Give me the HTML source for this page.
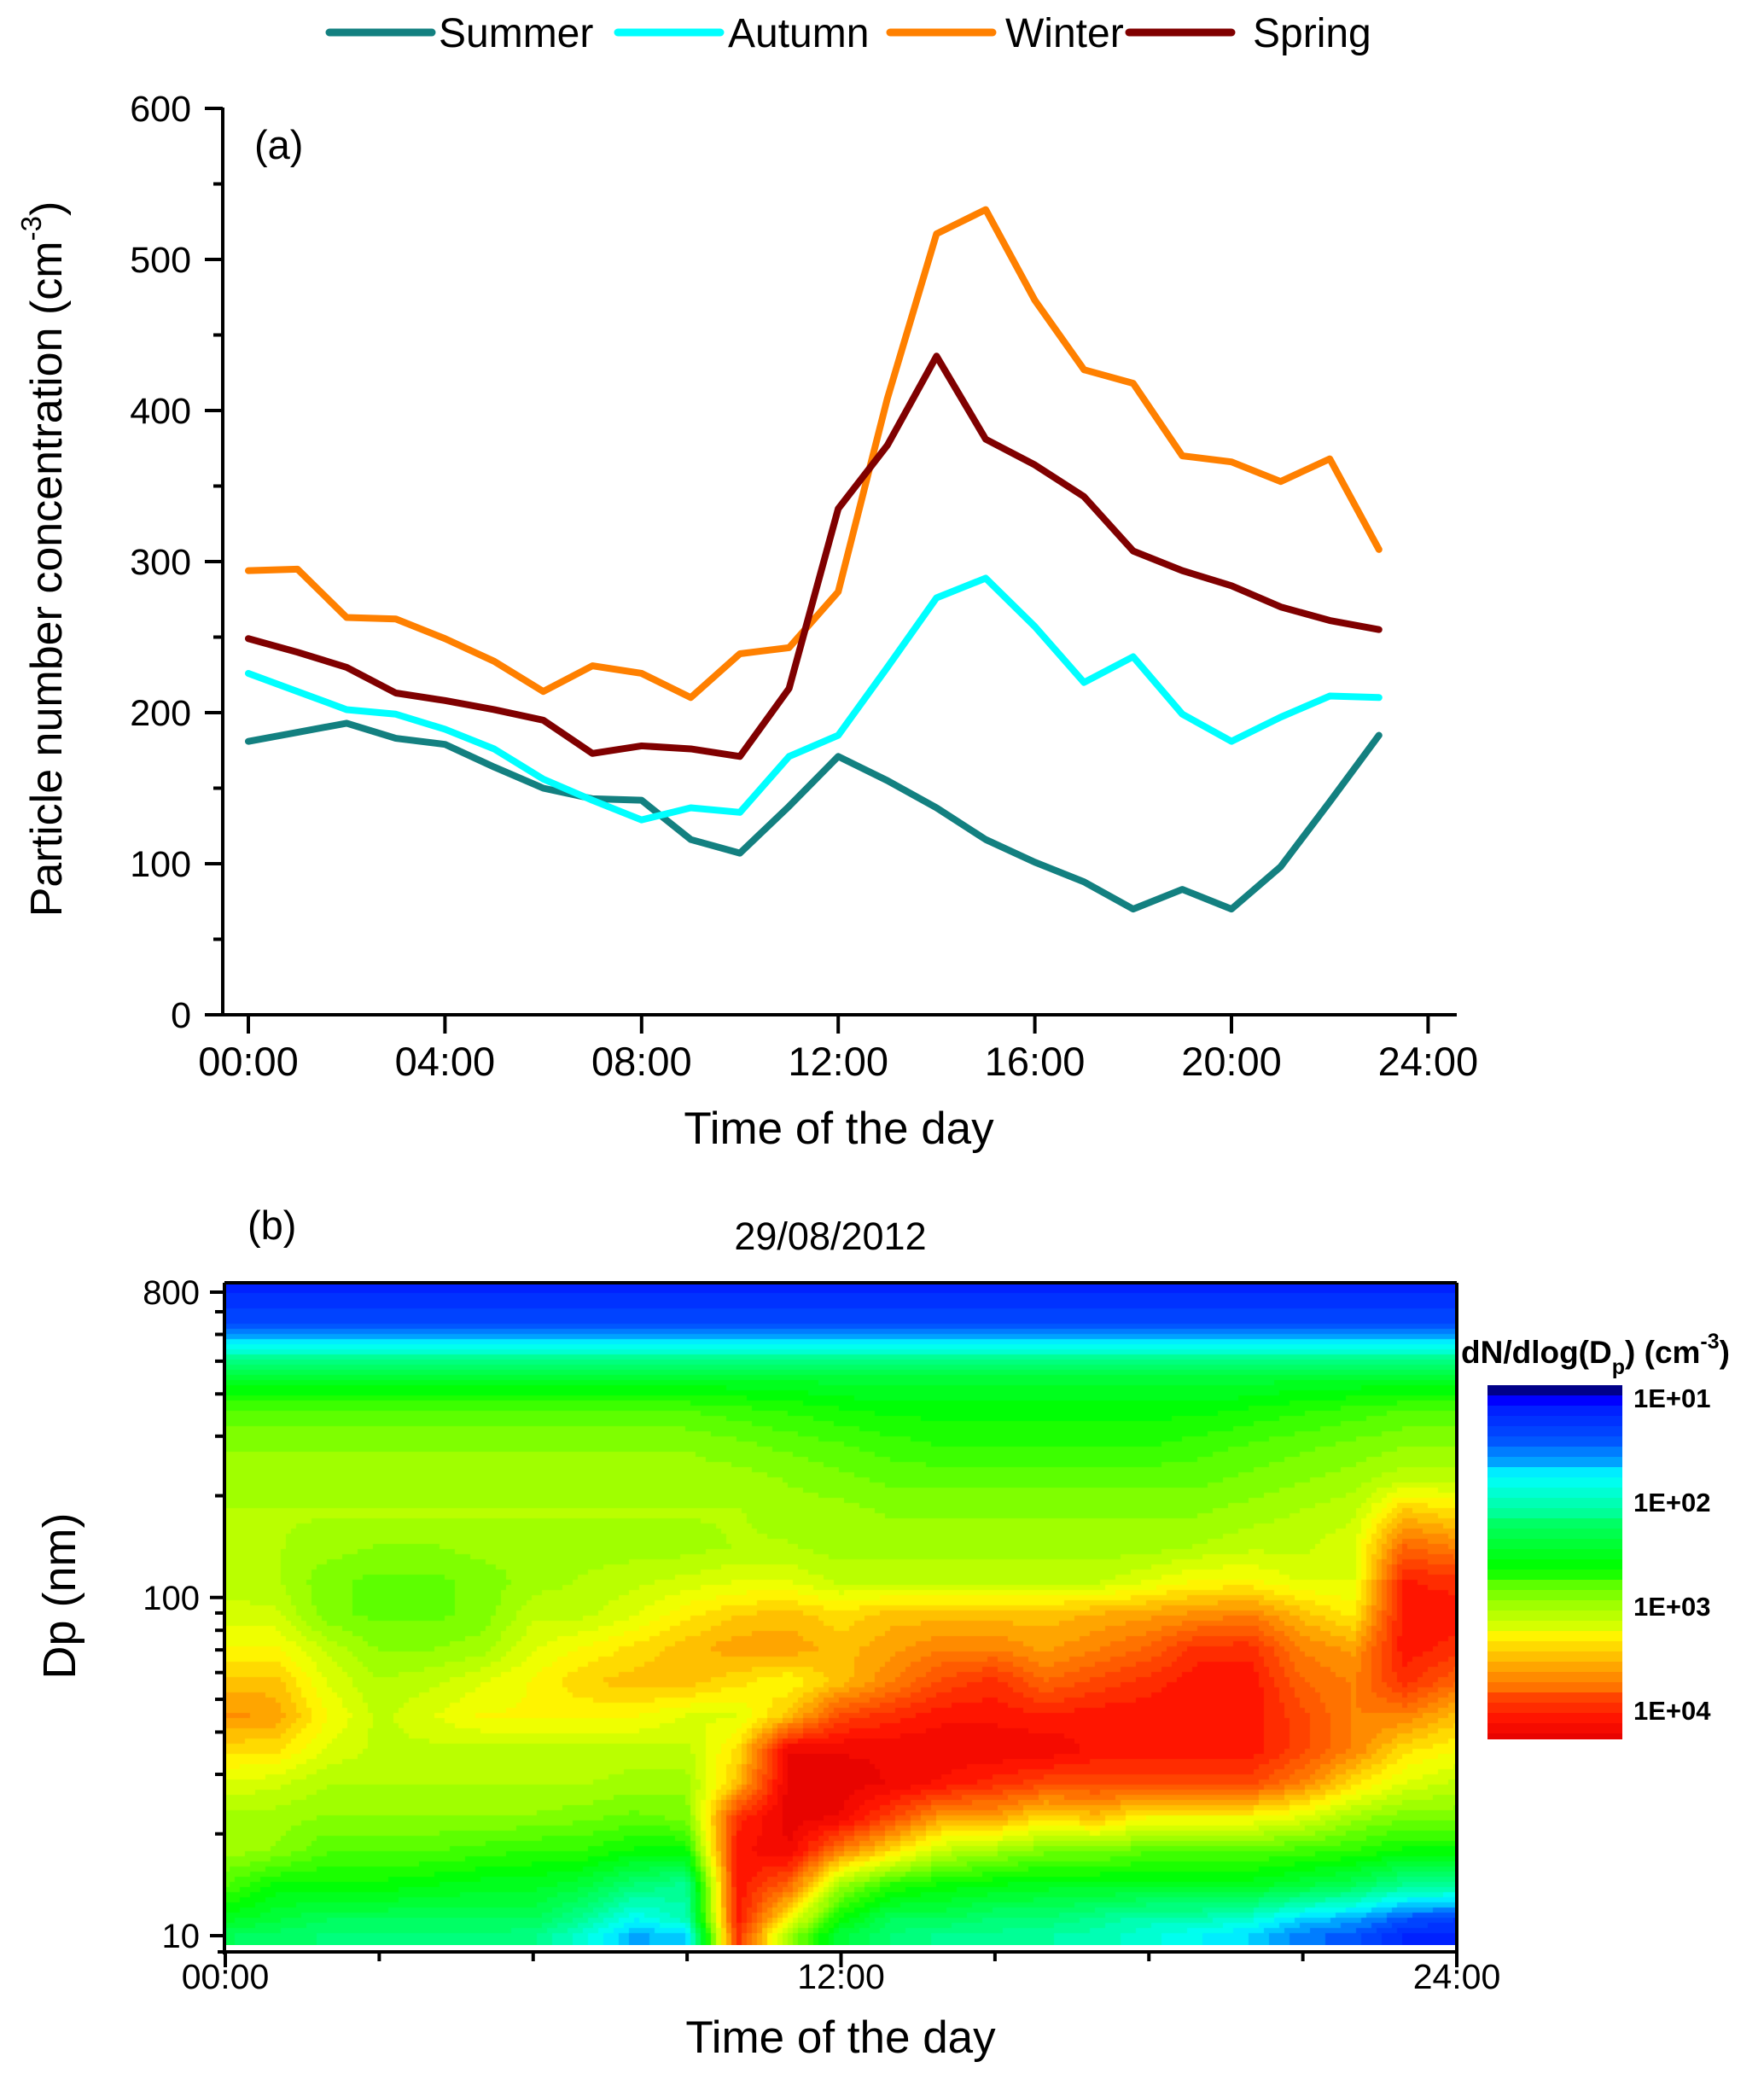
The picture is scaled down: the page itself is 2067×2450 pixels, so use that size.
<!DOCTYPE html>
<html><head><meta charset="utf-8"><style>
html,body{margin:0;padding:0;background:#fff;}
#wrap{position:relative;width:2067px;height:2450px;overflow:hidden;font-family:"Liberation Sans",Arial,sans-serif;}
svg{position:absolute;left:0;top:0;}
#heat{position:absolute;left:263px;top:1503px;}
</style></head><body>
<div id="wrap">
<canvas id="heat" width="1444" height="776"></canvas>
<svg id="fig" width="2067" height="2450"></svg>
</div>
<script>
// ---- Panel (a) data ----
const hours = [0,1,2,3,4,5,6,7,8,9,10,11,12,13,14,15,16,17,18,19,20,21,22,23];
const summer = [181,187,193,183,179,164,150,143,142,116,107,138,171,155,137,116,101,88,70,83,70,98,141,185];
const autumn = [226,214,202,199,189,176,156,142,129,137,134,171,185,230,276,289,257,220,237,199,181,197,211,210];
const winter = [294,295,263,262,249,234,214,231,226,210,239,243,280,408,517,533,473,427,418,370,366,353,368,308];
const spring = [249,240,230,213,208,202,195,173,178,176,171,216,335,377,436,381,364,343,307,294,284,270,261,255];
const yTicksA = [0,100,200,300,400,500,600];
const xTickLabelsA = ["00:00","04:00","08:00","12:00","16:00","20:00","24:00"];
const xTickHoursA = [0,4,8,12,16,20,24];

// ---- Panel (b) data: log10(dN/dlogDp) grid, rows = log10(Dp), cols = hour 0..24 ----
const heatHours = [0,1,2,3,4,5,6,7,8,9,10,11,12,13,14,15,16,17,18,19,20,21,22,23,24];
const heatLogDp = [2.9,2.8,2.72,2.65,2.55,2.45,2.35,2.25,2.15,2.05,1.95,1.85,1.75,1.65,1.55,1.45,1.35,1.25,1.15,1.05,1.0];
const heatValues = [
[1.2,1.2,1.2,1.2,1.2,1.2,1.2,1.2,1.2,1.2,1.2,1.2,1.2,1.2,1.2,1.2,1.2,1.2,1.2,1.2,1.2,1.2,1.2,1.2,1.2],
[1.4,1.4,1.4,1.4,1.4,1.4,1.4,1.4,1.4,1.4,1.4,1.4,1.4,1.4,1.4,1.4,1.4,1.4,1.4,1.4,1.4,1.4,1.4,1.4,1.4],
[2.0,2.0,2.0,2.0,2.0,2.0,2.0,2.0,2.0,2.0,2.0,2.0,2.0,2.0,2.0,2.0,2.0,2.0,2.0,2.0,2.0,2.0,2.0,2.0,2.0],
[2.45,2.45,2.45,2.45,2.45,2.45,2.45,2.45,2.45,2.45,2.45,2.45,2.4,2.4,2.4,2.4,2.4,2.4,2.4,2.4,2.4,2.45,2.45,2.45,2.45],
[2.8,2.8,2.8,2.8,2.8,2.8,2.8,2.8,2.8,2.8,2.75,2.7,2.65,2.6,2.6,2.6,2.6,2.6,2.6,2.6,2.65,2.7,2.75,2.8,2.8],
[2.95,2.95,2.95,2.95,2.95,2.95,2.95,2.95,2.95,2.95,2.9,2.85,2.8,2.75,2.7,2.7,2.7,2.7,2.7,2.75,2.8,2.85,2.9,2.95,2.95],
[3.0,3.0,3.0,3.0,3.0,3.0,3.0,3.0,3.0,3.0,3.0,2.95,2.9,2.85,2.85,2.85,2.85,2.85,2.85,2.85,2.9,2.95,3.0,3.1,3.1],
[3.05,3.05,3.05,3.05,3.05,3.05,3.05,3.05,3.05,3.05,3.05,3.0,3.0,2.95,2.95,2.95,2.95,2.95,2.95,2.95,3.0,3.05,3.1,3.5,3.4],
[3.05,3.05,3.0,2.95,2.95,3.0,3.0,3.0,3.0,3.0,3.05,3.05,3.0,3.0,3.0,3.0,3.0,3.0,3.0,3.05,3.1,3.1,3.2,3.8,3.7],
[3.1,3.05,2.9,2.85,2.85,2.9,3.0,3.05,3.1,3.15,3.2,3.2,3.1,3.1,3.1,3.1,3.1,3.1,3.2,3.3,3.3,3.2,3.2,4.05,4.0],
[3.15,3.15,2.9,2.85,2.85,2.9,3.1,3.1,3.2,3.35,3.45,3.5,3.4,3.5,3.5,3.5,3.5,3.55,3.6,3.65,3.7,3.5,3.35,4.1,4.1],
[3.3,3.3,3.1,2.95,2.95,3.0,3.2,3.3,3.4,3.5,3.6,3.6,3.5,3.6,3.7,3.7,3.6,3.7,3.8,4.0,4.0,3.7,3.6,4.1,4.0],
[3.5,3.5,3.2,3.05,3.1,3.2,3.3,3.45,3.5,3.5,3.4,3.3,3.5,3.7,3.9,4.0,3.8,3.9,4.0,4.1,4.1,3.8,3.7,4.0,3.8],
[3.65,3.6,3.3,3.1,3.2,3.3,3.3,3.3,3.3,3.2,3.2,3.5,3.9,4.0,4.1,4.1,4.05,4.1,4.1,4.1,4.1,3.9,3.7,3.7,3.5],
[3.4,3.4,3.2,3.1,3.1,3.1,3.1,3.1,3.1,3.1,3.4,4.2,4.2,4.2,4.2,4.2,4.2,4.1,4.1,4.1,4.1,3.9,3.7,3.4,3.3],
[3.2,3.15,3.05,3.05,3.05,3.05,3.05,3.05,3.0,3.0,3.5,4.25,4.25,4.2,4.1,4.0,3.9,3.9,3.9,3.9,3.9,3.7,3.4,3.2,3.1],
[3.0,3.0,2.95,2.95,2.95,2.95,2.95,2.9,2.85,2.9,4.0,4.25,4.2,3.9,3.6,3.6,3.4,3.5,3.3,3.3,3.3,3.2,3.0,2.9,2.9],
[3.0,2.95,2.8,2.8,2.8,2.75,2.7,2.7,2.6,2.6,4.1,4.2,3.7,3.4,3.1,3.0,2.9,2.9,2.8,2.8,2.8,2.75,2.7,2.6,2.6],
[2.8,2.6,2.6,2.6,2.55,2.5,2.5,2.4,2.2,2.1,4.1,3.8,3.0,2.7,2.6,2.55,2.5,2.5,2.5,2.5,2.5,2.4,2.3,2.1,2.1],
[2.5,2.4,2.3,2.3,2.3,2.3,2.3,2.1,1.8,2.0,4.1,3.3,2.6,2.3,2.3,2.2,2.2,2.1,2.0,2.0,1.9,1.7,1.6,1.4,1.3],
[2.3,2.25,2.2,2.2,2.2,2.2,2.15,1.9,1.6,1.7,4.0,3.0,2.4,2.2,2.1,2.1,2.05,2.0,1.9,1.8,1.7,1.5,1.4,1.2,1.2]
];
const yTicksB = [10,100,800];
const xTickLabelsB = ["00:00","12:00","24:00"];
const xTickHoursB = [0,12,24];
const cbarLabels = ["1E+01","1E+02","1E+03","1E+04"];
const cbarLogs = [1,2,3,4];

// ---- scales ----
const xA = h => 291 + h*57.6;
const yA = v => 1189 - v*(1062/600);
const xB = h => 264 + h*(1443/24);
const yB = d => 2268 - (Math.log10(d)-1)*396.2;
const yCb = l => 1637 + (l-1)*122;

const NS="http://www.w3.org/2000/svg";
const svg=document.getElementById('fig');
function mk(tag,attrs,parent){const e=document.createElementNS(NS,tag);for(const k in attrs)e.setAttribute(k,attrs[k]);(parent||svg).appendChild(e);return e;}
function txt(s,attrs){const e=mk('text',attrs);e.textContent=s;return e;}

// ---- Legend ----
const legNames=["Summer","Autumn","Winter","Spring"];
const legColors=["#138080","#00ffff","#ff8000","#800000"];
const legX=[386,724,1043,1323];
const legTX=[514,853,1178,1468];
for(let i=0;i<4;i++){
  const g=mk('g',{});
  
  
  mk('line',{x1:legX[i],y1:38,x2:legX[i]+120,y2:38,stroke:legColors[i],'stroke-width':9,'stroke-linecap':'round'},g);
  const t=mk('text',{x:legTX[i],y:55,'font-size':48,fill:'#000'},g);t.textContent=legNames[i];
}

// ---- Panel (a) axes ----
const axA=mk('g',{stroke:'#000','stroke-width':4});


mk('line',{x1:261,y1:126,x2:261,y2:1191},axA);
mk('line',{x1:240,y1:1189,x2:1707,y2:1189},axA);
for(let v=0;v<=600;v+=50){const maj=v%100===0;mk('line',{x1:maj?240:250,y1:yA(v),x2:261,y2:yA(v)},axA);}
xTickHoursA.forEach(h=>mk('line',{x1:xA(h),y1:1189,x2:xA(h),y2:1211},axA));
yTicksA.forEach(v=>{const t=txt(String(v),{x:224,y:yA(v)+15,'font-size':43,'text-anchor':'end'});});
xTickHoursA.forEach((h,i)=>{const t=txt(xTickLabelsA[i],{x:xA(h),y:1260,'font-size':47,'text-anchor':'middle'});});
let t;
t=txt("(a)",{x:298,y:186,'font-size':47});
t=txt("Time of the day",{x:983,y:1340,'font-size':53,'text-anchor':'middle'});
t=mk('text',{transform:'translate(72,655) rotate(-90)','font-size':52,'text-anchor':'middle'});

t.innerHTML='Particle number concentration (cm<tspan dy="-24" font-size="33">-3</tspan><tspan dy="24">)</tspan>';

// ---- Panel (a) series ----
const series=[["summer",summer,"#138080"],["autumn",autumn,"#00ffff"],["winter",winter,"#ff8000"],["spring",spring,"#800000"]];
series.forEach(s=>{
  const p=mk('polyline',{points:hours.map((h,i)=>xA(h)+','+yA(s[1][i])).join(' '),fill:'none',stroke:s[2],'stroke-width':8,'stroke-linejoin':'round','stroke-linecap':'round'});
  
  
});

// ---- Panel (b) heatmap ----
const stops=[[0.9,[0,0,112]],[1.0,[0,0,255]],[1.4,[0,80,255]],[1.79,[0,255,255]],[2.1,[0,255,144]],[2.6,[0,255,0]],[3.0,[160,255,0]],[3.3,[255,255,0]],[3.7,[255,128,0]],[4.1,[255,16,0]],[4.3,[224,0,0]]];
function cmap(v){
  v=Math.round(v*12)/12;
  if(v<=stops[0][0])return stops[0][1];
  for(let i=1;i<stops.length;i++){if(v<=stops[i][0]){const a=stops[i-1],b=stops[i];const f=(v-a[0])/(b[0]-a[0]);return a[1].map((c,k)=>Math.round(c+(b[1][k]-c)*f));}}
  return stops[stops.length-1][1];
}
function sample(h,l){
  let ci=Math.min(Math.max(h,0),24);let c0=Math.min(Math.floor(ci),23);let fc=ci-c0;
  let r0=0,fr=0;
  if(l>=heatLogDp[0]){r0=0;fr=0;}
  else if(l<=heatLogDp[heatLogDp.length-1]){r0=heatLogDp.length-2;fr=1;}
  else{for(let i=0;i<heatLogDp.length-1;i++){if(l<=heatLogDp[i]&&l>=heatLogDp[i+1]){r0=i;fr=(heatLogDp[i]-l)/(heatLogDp[i]-heatLogDp[i+1]);break;}}}
  const a=heatValues[r0][c0],b=heatValues[r0][c0+1],c=heatValues[r0+1][c0],d=heatValues[r0+1][c0+1];
  return (a*(1-fc)+b*fc)*(1-fr)+(c*(1-fc)+d*fc)*fr;
}
const cv=document.getElementById('heat');const ctx=cv.getContext('2d');
const bw=6,bh=6;
for(let py=0;py<776;py+=bh){
  const yy=1503+py+bh/2;const l=1+(2268-yy)/396.2;
  for(let px=0;px<1444;px+=bw){
    const h=(px+bw/2)/(1443/24);
    const col=cmap(sample(h,l));
    ctx.fillStyle='rgb('+col.join(',')+')';
    ctx.fillRect(px,py,bw,bh);
  }
}

// ---- Panel (b) axes ----
const axB=mk('g',{stroke:'#000','stroke-width':4,fill:'none'});


mk('line',{x1:263,y1:1503,x2:1707,y2:1503},axB);
mk('line',{x1:1707,y1:1503,x2:1707,y2:2287},axB);
mk('line',{x1:263,y1:1503,x2:263,y2:2290},axB);
mk('line',{x1:255,y1:2287,x2:1709,y2:2287},axB);
[10,20,30,40,50,60,70,80,90,100,200,300,400,500,600,700,800].forEach(d=>{const maj=yTicksB.includes(d);mk('line',{x1:maj?246:252,y1:yB(d),x2:263,y2:yB(d)},axB);});
for(let h=0;h<=24;h+=3){const maj=h%12===0;mk('line',{x1:xB(h),y1:2287,x2:xB(h),y2:maj?2305:2298},axB);}
yTicksB.forEach(d=>{const t=txt(String(d),{x:234,y:yB(d)+14,'font-size':40,'text-anchor':'end'});});
xTickHoursB.forEach((h,i)=>{const t=txt(xTickLabelsB[i],{x:xB(h),y:2330,'font-size':41,'text-anchor':'middle'});});
t=txt("(b)",{x:290,y:1452,'font-size':47});
t=txt("29/08/2012",{x:973,y:1464,'font-size':45,'text-anchor':'middle'});
t=txt("Time of the day",{x:985,y:2405,'font-size':53,'text-anchor':'middle'});
t=txt("Dp (nm)",{transform:'translate(88,1870) rotate(-90)','font-size':54,'text-anchor':'middle'});

// ---- Colorbar ----
const cb=mk('g',{});


for(let y=1623;y<2038;y+=12){
  const l=1+(y+6-1637)/122;
  const col=cmap(l);
  mk('rect',{x:1743,y:y,width:158,height:Math.min(12,2038-y),fill:'rgb('+col.join(',')+')'},cb);
}
cbarLogs.forEach((l,i)=>{const t=txt(cbarLabels[i],{x:1914,y:yCb(l)+12,'font-size':31,'font-weight':'bold'});});
t=mk('text',{x:1712,y:1597,'font-size':37,'font-weight':'bold'});

t.innerHTML='dN/dlog(D<tspan dy="13" font-size="25">p</tspan><tspan dy="-13">)  (cm</tspan><tspan dy="-17" font-size="25">-3</tspan><tspan dy="17">)</tspan>';
</script>
</body></html>
